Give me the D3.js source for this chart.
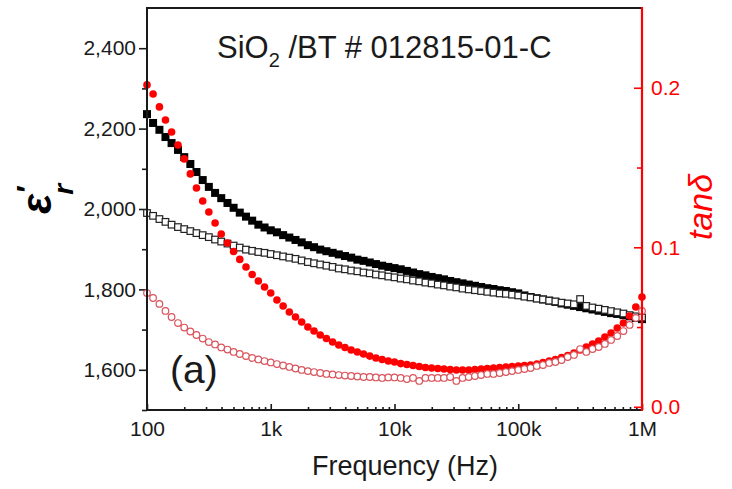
<!DOCTYPE html>
<html>
<head>
<meta charset="utf-8">
<script src="https://cdnjs.cloudflare.com/ajax/libs/d3/7.8.5/d3.min.js"></script>
<style>
body { margin: 0; background: #fff; }
text { font-family: "Liberation Sans", Arial, sans-serif; }
</style>
</head>
<body>
<div id="chart"></div>
<script>
"use strict"

// frequency points (Hz), 20 per decade
let freq = [
    100, 112, 126, 141, 158, 178, 200, 224, 251, 282,
    316, 355, 398, 447, 501, 562, 631, 708, 794, 891,
    1000, 1122, 1259, 1413, 1585, 1778, 1995, 2239, 2512, 2818,
    3162, 3548, 3981, 4467, 5012, 5623, 6310, 7079, 7943, 8913,
    10000, 11220, 12589, 14125, 15849, 17783, 19953, 22387, 25119, 28184,
    31623, 35481, 39811, 44668, 50119, 56234, 63096, 70795, 79433, 89125,
    100000, 112202, 125893, 141254, 158489, 177828, 199526, 223872, 251189, 281838,
    316228, 354813, 398107, 446684, 501187, 562341, 630957, 707946, 794328, 891251,
    1000000
]

// eps' , filled squares
let epsFilled = [
    2236, 2214, 2197, 2179, 2164, 2147, 2129, 2112, 2092, 2072,
    2055, 2040, 2027, 2015, 2003, 1991, 1981, 1971, 1961, 1954,
    1947, 1942, 1935, 1929, 1923, 1917, 1910, 1905, 1899, 1895,
    1891, 1887, 1883, 1879, 1874, 1871, 1867, 1863, 1859, 1856,
    1853, 1850, 1846, 1842, 1838, 1835, 1831, 1828, 1825, 1821,
    1818, 1815, 1812, 1809, 1806, 1803, 1801, 1798, 1796, 1793,
    1790, 1785, 1781, 1778, 1775, 1772, 1769, 1765, 1762, 1759,
    1756, 1753, 1750, 1747, 1744, 1741, 1739, 1736, 1733, 1729,
    1726
]

// eps' , open squares
let epsOpen = [
    1990, 1983, 1975, 1968, 1961, 1955, 1950, 1945, 1940, 1935,
    1930, 1924, 1919, 1914, 1909, 1904, 1899, 1896, 1893, 1891,
    1888, 1885, 1882, 1879, 1876, 1872, 1868, 1865, 1862, 1859,
    1856, 1852, 1850, 1847, 1845, 1842, 1840, 1837, 1835, 1832,
    1830, 1827, 1825, 1822, 1820, 1817, 1815, 1812, 1810, 1807,
    1805, 1802, 1800, 1798, 1796, 1794, 1792, 1790, 1789, 1787,
    1785, 1782, 1780, 1777, 1775, 1772, 1770, 1767, 1765, 1763,
    1776, 1759, 1755, 1752, 1749, 1746, 1743, 1740, 1736, 1733,
    1730
]

// tan delta, filled circles
let tanFilled = [
    0.2018, 0.1961, 0.1880, 0.1798, 0.1723, 0.1641, 0.1554, 0.1460, 0.1372, 0.1290,
    0.1221, 0.1152, 0.1083, 0.1027, 0.0974, 0.0924, 0.0876, 0.0829, 0.0789, 0.0751,
    0.0713, 0.0670, 0.0632, 0.0594, 0.0563, 0.0532, 0.0500, 0.0475, 0.0450, 0.0428,
    0.0406, 0.0387, 0.0372, 0.0356, 0.0344, 0.0331, 0.0318, 0.0306, 0.0297, 0.0287,
    0.0281, 0.0271, 0.0265, 0.0259, 0.0253, 0.0246, 0.0243, 0.0240, 0.0237, 0.0234,
    0.0231, 0.0231, 0.0231, 0.0234, 0.0237, 0.0240, 0.0243, 0.0246, 0.0250, 0.0253,
    0.0256, 0.0259, 0.0262, 0.0268, 0.0278, 0.0287, 0.0297, 0.0309, 0.0322, 0.0337,
    0.0356, 0.0375, 0.0394, 0.0413, 0.0438, 0.0463, 0.0494, 0.0525, 0.0569, 0.0626,
    0.0688
]

// tan delta, open circles
let tanOpen = [
    0.0713, 0.0682, 0.0645, 0.0601, 0.0563, 0.0525, 0.0497, 0.0472, 0.0450, 0.0428,
    0.0406, 0.0391, 0.0372, 0.0359, 0.0344, 0.0331, 0.0318, 0.0306, 0.0297, 0.0287,
    0.0278, 0.0268, 0.0259, 0.0250, 0.0240, 0.0231, 0.0224, 0.0218, 0.0212, 0.0206,
    0.0203, 0.0199, 0.0196, 0.0193, 0.0190, 0.0187, 0.0187, 0.0184, 0.0181, 0.0184,
    0.0184, 0.0181, 0.0174, 0.0181, 0.0162, 0.0181, 0.0181, 0.0181, 0.0181, 0.0187,
    0.0162, 0.0181, 0.0187, 0.0193, 0.0199, 0.0206, 0.0206, 0.0212, 0.0218, 0.0224,
    0.0231, 0.0237, 0.0243, 0.0256, 0.0262, 0.0275, 0.0281, 0.0293, 0.0312, 0.0325,
    0.0362, 0.0344, 0.0362, 0.0375, 0.0394, 0.0419, 0.0444, 0.0475, 0.0513, 0.0557,
    0.0601
]

let xTicks = [100, 1000, 10000, 100000, 1000000]
let xTickLabels = ["100", "1k", "10k", "100k", "1M"]
let leftTicks = [1600, 1800, 2000, 2200, 2400]
let leftMinor = [1500, 1700, 1900, 2100, 2300]
let rightTicks = [0, 0.1, 0.2]
let rightMinor = [0.05, 0.15]

let width = 732, height = 489;
let mLeft = 147, mRight = 642, mTop = 8, mBottom = 410;
let red = "#ff0000";
let ink = "#1a1a1a";

let svg = d3.select("#chart").append("svg")
    .attr("width", width)
    .attr("height", height)

let x = d3.scaleLog().domain([100, 1e6]).range([mLeft, mRight])
let yL = d3.scaleLinear().domain([1500, 2500]).range([mBottom, mTop])
let yR = d3.scaleLinear().domain([-0.002, 0.25]).range([mBottom, mTop])

// ---- axes
function styleAxis(g, color, size){
    g.select(".domain").remove()
    g.selectAll("line").attr("stroke", color).attr("stroke-width", 1.6)
    g.selectAll("text")
        .attr("fill", color)
        .style("font-size", size + "px")
        .style("font-family", "'Liberation Sans', Arial, sans-serif")
}

let gx = svg.append("g")
    .attr("transform", "translate(0," + mBottom + ")")
    .call(d3.axisBottom(x).tickValues(xTicks)
        .tickFormat((d, i) => xTickLabels[i])
        .tickSizeInner(-6).tickSizeOuter(0).tickPadding(11))
styleAxis(gx, ink, 21)

let minorX = x.ticks().filter(d => xTicks.indexOf(d) < 0)
let gxm = svg.append("g")
    .attr("transform", "translate(0," + mBottom + ")")
    .call(d3.axisBottom(x).tickValues(minorX).tickFormat("")
        .tickSizeInner(-3).tickSizeOuter(0))
styleAxis(gxm, ink, 21)

let gl = svg.append("g")
    .attr("transform", "translate(" + mLeft + ",0)")
    .call(d3.axisLeft(yL).tickValues(leftTicks).tickFormat(d3.format(","))
        .tickSizeInner(8).tickSizeOuter(0).tickPadding(3))
styleAxis(gl, ink, 21)

let glm = svg.append("g")
    .attr("transform", "translate(" + mLeft + ",0)")
    .call(d3.axisLeft(yL).tickValues(leftMinor).tickFormat("")
        .tickSizeInner(5).tickSizeOuter(0))
styleAxis(glm, ink, 21)

let gr = svg.append("g")
    .attr("transform", "translate(" + mRight + ",0)")
    .call(d3.axisRight(yR).tickValues(rightTicks).tickFormat(d3.format(".1f"))
        .tickSizeInner(-8).tickSizeOuter(0).tickPadding(9))
styleAxis(gr, red, 21)

let grm = svg.append("g")
    .attr("transform", "translate(" + mRight + ",0)")
    .call(d3.axisRight(yR).tickValues(rightMinor).tickFormat("")
        .tickSizeInner(-5).tickSizeOuter(0))
styleAxis(grm, red, 21)

// ---- data points
let idx = d3.range(freq.length)

svg.append("g").selectAll("rect")
    .data(idx).enter().append("rect")
    .attr("x", i => x(freq[i]) - 4)
    .attr("y", i => yL(epsFilled[i]) - 4)
    .attr("width", 8).attr("height", 8)
    .attr("fill", "#000")

svg.append("g").selectAll("rect")
    .data(idx).enter().append("rect")
    .attr("x", i => x(freq[i]) - 3.3)
    .attr("y", i => yL(epsOpen[i]) - 3.3)
    .attr("width", 6.6).attr("height", 6.6)
    .attr("fill", "#fff")
    .attr("stroke", "#222")
    .attr("stroke-width", 1.2)

svg.append("g").selectAll("circle")
    .data(idx).enter().append("circle")
    .attr("cx", i => x(freq[i]))
    .attr("cy", i => yR(tanFilled[i]))
    .attr("r", 3.8)
    .attr("fill", red)

svg.append("g").selectAll("circle")
    .data(idx).enter().append("circle")
    .attr("cx", i => x(freq[i]))
    .attr("cy", i => yR(tanOpen[i]))
    .attr("r", 3.3)
    .attr("fill", "#fff")
    .attr("stroke", "#d9545c")
    .attr("stroke-width", 1.2)

// ---- frame
svg.append("line").attr("x1", mLeft).attr("x2", mRight).attr("y1", mTop).attr("y2", mTop)
    .attr("stroke", ink).attr("stroke-width", 2)
svg.append("line").attr("x1", mLeft).attr("x2", mRight).attr("y1", mBottom).attr("y2", mBottom)
    .attr("stroke", ink).attr("stroke-width", 2)
svg.append("line").attr("x1", mLeft).attr("x2", mLeft).attr("y1", mTop - 1).attr("y2", mBottom + 1)
    .attr("stroke", ink).attr("stroke-width", 2)
svg.append("line").attr("x1", mRight).attr("x2", mRight).attr("y1", mTop - 1).attr("y2", mBottom + 1)
    .attr("stroke", red).attr("stroke-width", 2.2)

// ---- texts
let title = svg.append("text")
    .attr("x", 217).attr("y", 58)
    .attr("fill", ink)
    .style("font-size", "31px")
title.append("tspan").text("SiO")
title.append("tspan").text("2").style("font-size", "20px").attr("dy", 9)
title.append("tspan").text(" /BT # 012815-01-C").attr("dy", -9)

svg.append("text")
    .attr("x", 170).attr("y", 383)
    .attr("fill", ink)
    .style("font-size", "39px")
    .text("(a)")

svg.append("text")
    .attr("x", 405).attr("y", 475)
    .attr("text-anchor", "middle")
    .attr("fill", ink)
    .style("font-size", "27px")
    .text("Frequency (Hz)")

// eps'_r label, rotated
let yl = svg.append("text")
    .attr("transform", "translate(51,214) rotate(-90)")
    .attr("fill", "#000")
    .style("font-weight", "bold")
    .style("font-style", "italic")
yl.append("tspan").text("ε").style("font-size", "42px")
yl.append("tspan").text("′").style("font-size", "30px").attr("dy", -14).attr("dx", 0)
yl.append("tspan").text("r").style("font-size", "28px").attr("dy", 36).attr("dx", -8)

svg.append("text")
    .attr("transform", "translate(712,207) rotate(-90)")
    .attr("text-anchor", "middle")
    .attr("fill", red)
    .style("font-style", "italic")
    .style("font-size", "34px")
    .text("tanδ")
</script>
</body>
</html>
